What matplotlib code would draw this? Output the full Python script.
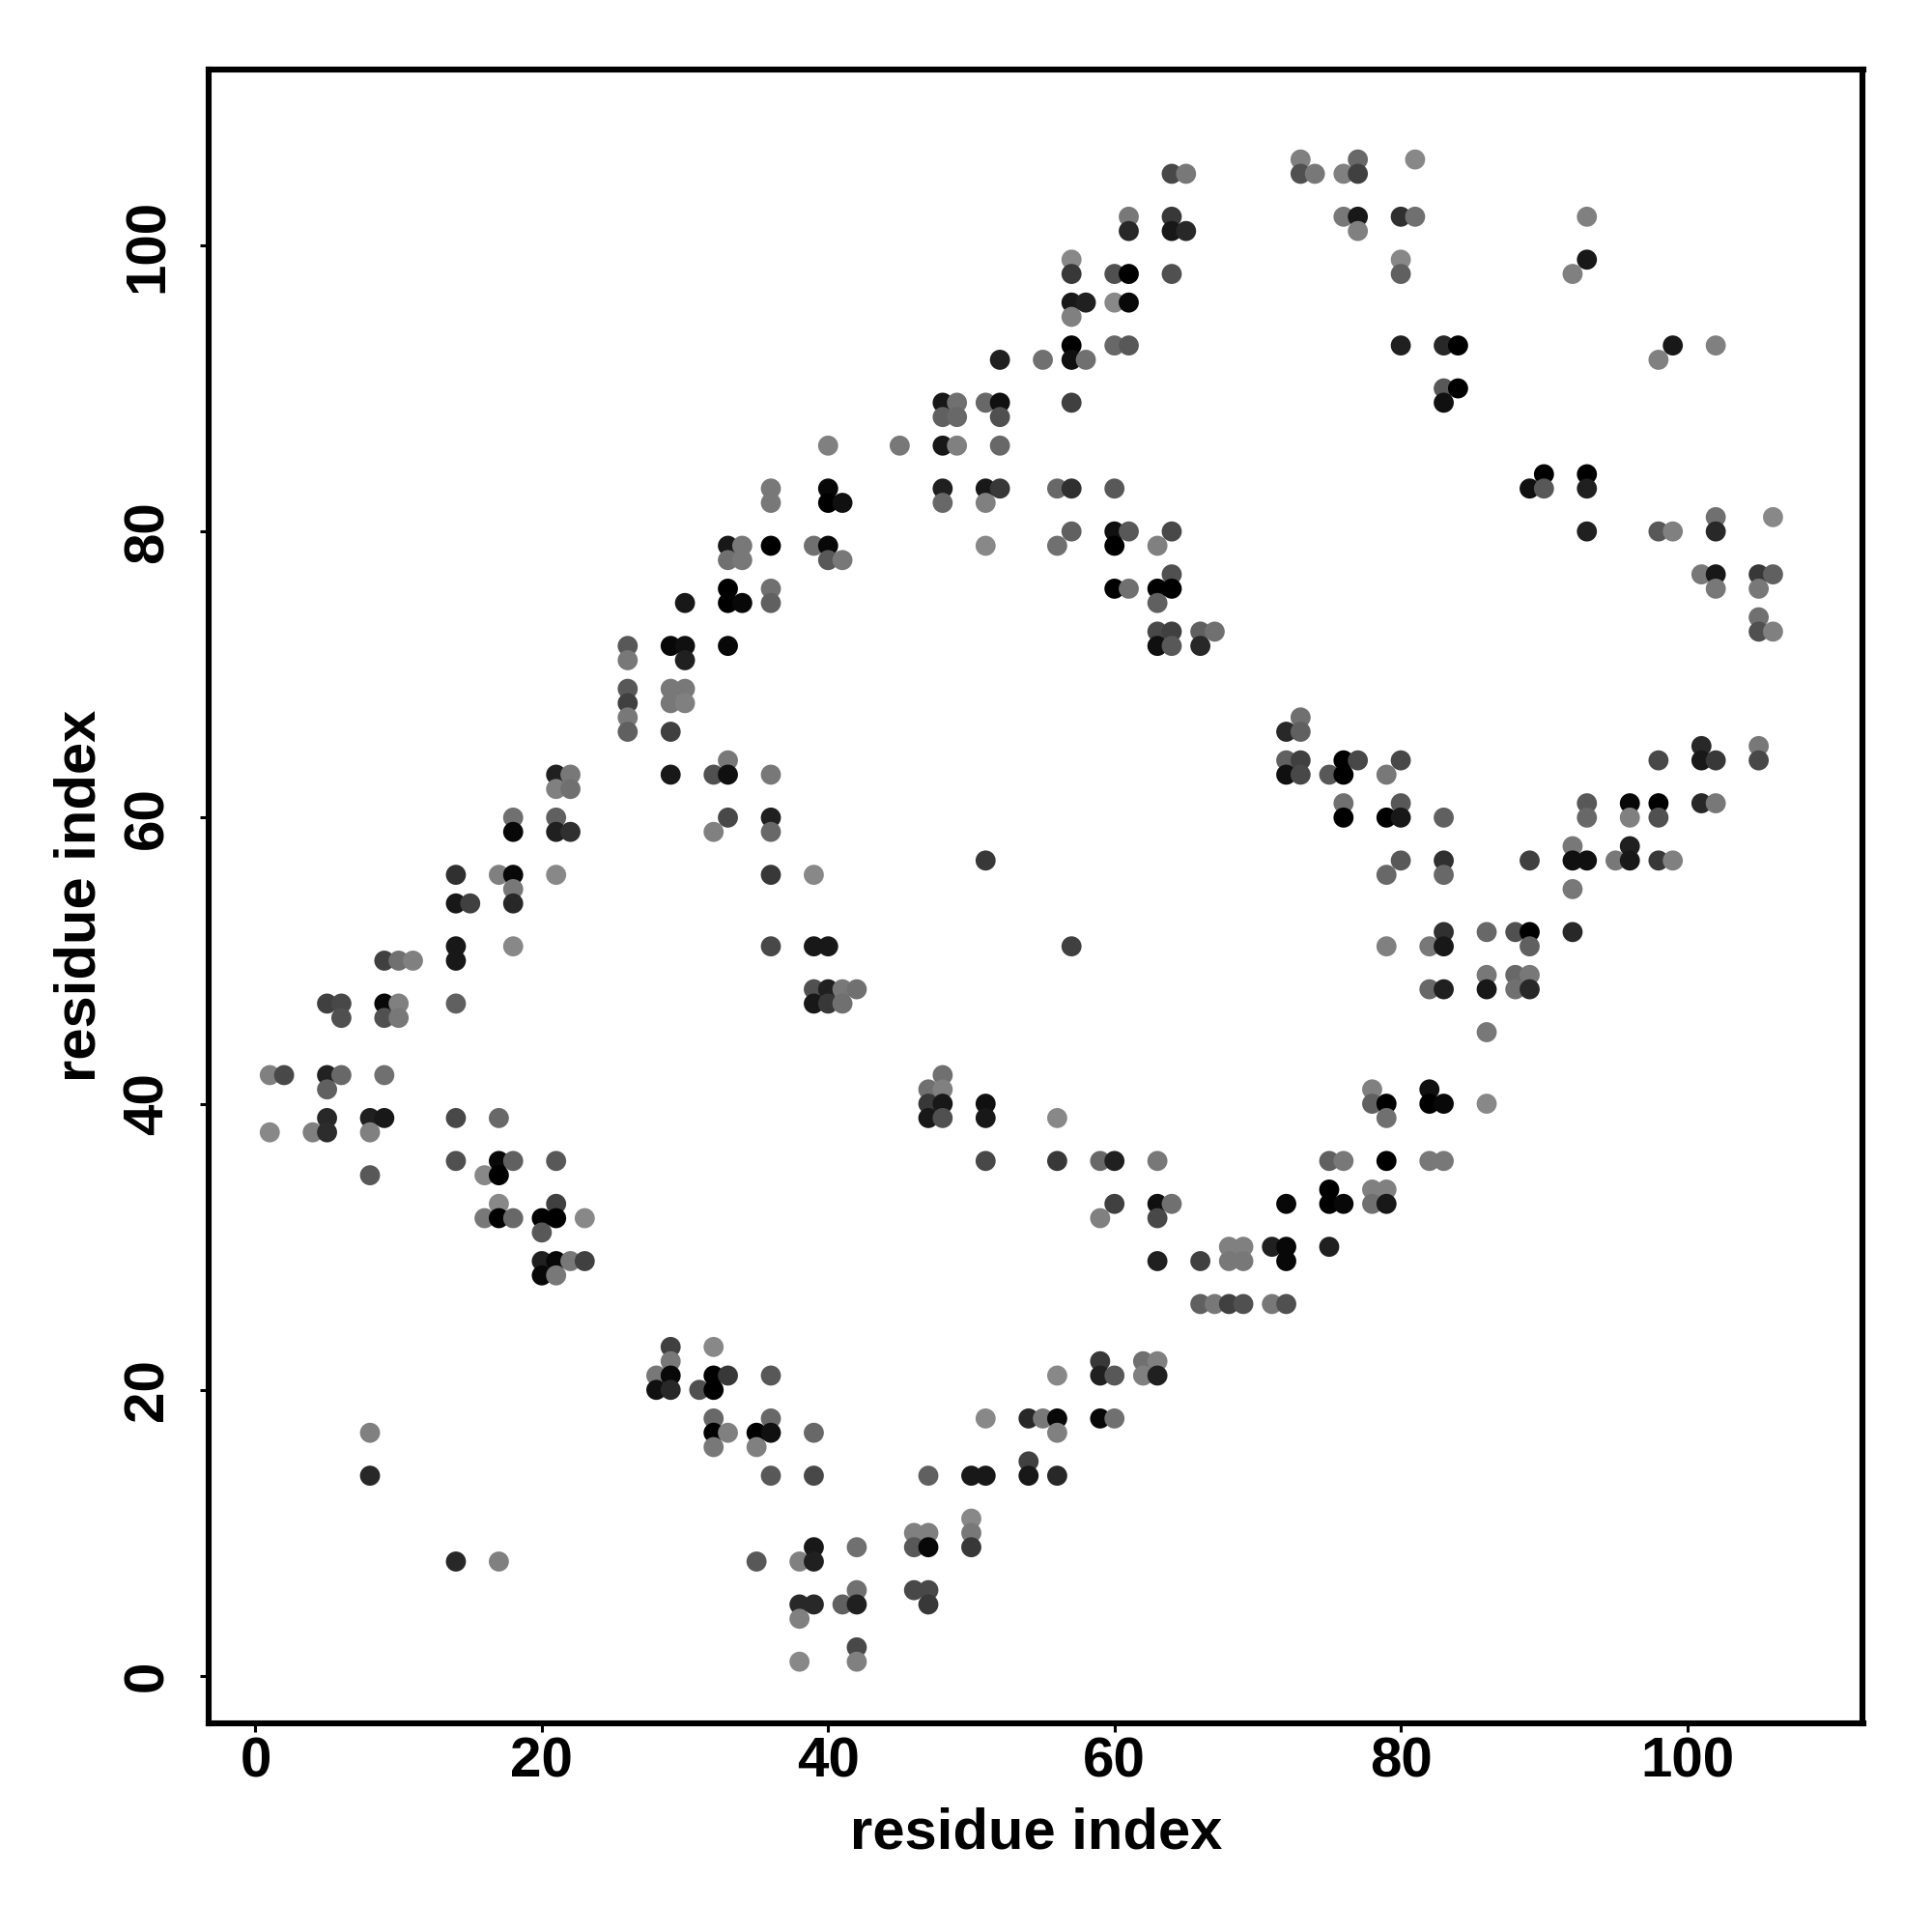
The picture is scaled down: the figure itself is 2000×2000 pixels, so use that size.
import matplotlib
matplotlib.use("Agg")
import matplotlib.pyplot as plt

# contacts, one line per residue on the x axis
residue_x = [
	1, 1,
	2,
	4,
	5, 5, 5, 5, 5,
	6, 6, 6,
	8, 8, 8, 8, 8,
	9, 9, 9, 9, 9,
	10, 10, 10,
	11,
	14, 14, 14, 14, 14, 14, 14, 14,
	15,
	16, 16,
	17, 17, 17, 17, 17, 17, 17,
	18, 18, 18, 18, 18, 18, 18, 18,
	20, 20, 20, 20,
	21, 21, 21, 21, 21, 21, 21, 21, 21, 21,
	22, 22, 22, 22,
	23, 23,
	26, 26, 26, 26, 26, 26,
	28, 28,
	29, 29, 29, 29, 29, 29, 29, 29, 29,
	30, 30, 30, 30, 30,
	31,
	32, 32, 32, 32, 32, 32, 32, 32,
	33, 33, 33, 33, 33, 33, 33, 33, 33, 33,
	34, 34, 34,
	35, 35, 35,
	36, 36, 36, 36, 36, 36, 36, 36, 36, 36, 36, 36, 36, 36,
	38, 38, 38, 38,
	39, 39, 39, 39, 39, 39, 39, 39, 39, 39,
	40, 40, 40, 40, 40, 40, 40, 40,
	41, 41, 41, 41, 41,
	42, 42, 42, 42, 42, 42,
	45,
	46, 46, 46,
	47, 47, 47, 47, 47, 47, 47, 47,
	48, 48, 48, 48, 48, 48, 48, 48, 48,
	49, 49, 49,
	50, 50, 50, 50,
	51, 51, 51, 51, 51, 51, 51, 51, 51, 51,
	52, 52, 52, 52, 52,
	54, 54, 54,
	55, 55,
	56, 56, 56, 56, 56, 56, 56, 56,
	57, 57, 57, 57, 57, 57, 57, 57, 57, 57,
	58, 58,
	59, 59, 59, 59, 59,
	60, 60, 60, 60, 60, 60, 60, 60, 60, 60, 60,
	61, 61, 61, 61, 61, 61, 61,
	62, 62,
	63, 63, 63, 63, 63, 63, 63, 63, 63, 63, 63,
	64, 64, 64, 64, 64, 64, 64, 64, 64, 64,
	65, 65,
	66, 66, 66, 66,
	67, 67,
	68, 68, 68,
	69, 69, 69,
	71, 71,
	72, 72, 72, 72, 72, 72, 72,
	73, 73, 73, 73, 73, 73,
	74,
	75, 75, 75, 75, 75,
	76, 76, 76, 76, 76, 76, 76, 76,
	77, 77, 77, 77, 77,
	78, 78, 78, 78,
	79, 79, 79, 79, 79, 79, 79, 79, 79,
	80, 80, 80, 80, 80, 80, 80, 80,
	81, 81,
	82, 82, 82, 82, 82,
	83, 83, 83, 83, 83, 83, 83, 83, 83, 83, 83,
	84, 84,
	86, 86, 86, 86, 86,
	88, 88, 88,
	89, 89, 89, 89, 89, 89,
	90, 90,
	92, 92, 92, 92, 92,
	93, 93, 93, 93, 93, 93, 93, 93,
	95,
	96, 96, 96, 96,
	98, 98, 98, 98, 98, 98,
	99, 99, 99,
	101, 101, 101, 101,
	102, 102, 102, 102, 102, 102, 102,
	105, 105, 105, 105, 105, 105,
	106, 106, 106,
]

residue_y = [
	42, 38,
	42,
	38,
	47, 42, 41, 39, 38,
	47, 46, 42,
	39, 38, 35, 17, 14,
	50, 47, 46, 42, 39,
	50, 47, 46,
	50,
	56, 54, 51, 50, 47, 39, 36, 8,
	54,
	35, 32,
	56, 39, 36, 35, 33, 32, 8,
	60, 59, 56, 55, 54, 51, 36, 32,
	32, 31, 29, 28,
	63, 62, 60, 59, 56, 36, 33, 32, 29, 28,
	63, 62, 59, 29,
	32, 29,
	72, 71, 69, 68, 67, 66,
	21, 20,
	72, 69, 68, 66, 63, 23, 22, 21, 20,
	75, 72, 71, 69, 68,
	20,
	63, 59, 23, 21, 20, 18, 17, 16,
	79, 78, 76, 75, 72, 64, 63, 60, 21, 17,
	79, 78, 75,
	17, 16, 8,
	83, 82, 79, 76, 75, 63, 60, 59, 56, 51, 21, 18, 17, 14,
	8, 5, 4, 1,
	79, 56, 51, 48, 47, 17, 14, 9, 8, 5,
	86, 83, 82, 79, 78, 51, 48, 47,
	82, 78, 48, 47, 5,
	48, 9, 6, 5, 2, 1,
	86,
	10, 9, 6,
	41, 40, 39, 14, 10, 9, 6, 5,
	89, 88, 86, 83, 82, 42, 41, 40, 39,
	89, 88, 86,
	14, 11, 10, 9,
	89, 83, 82, 79, 57, 40, 39, 36, 18, 14,
	92, 89, 88, 86, 83,
	18, 15, 14,
	92, 18,
	83, 79, 39, 36, 21, 18, 17, 14,
	99, 98, 96, 95, 93, 92, 89, 83, 80, 51,
	96, 92,
	36, 32, 22, 21, 18,
	98, 96, 93, 83, 80, 79, 76, 36, 33, 21, 18,
	102, 101, 98, 96, 93, 80, 76,
	22, 21,
	79, 76, 75, 73, 72, 36, 33, 32, 29, 22, 21,
	105, 102, 101, 98, 80, 77, 76, 73, 72, 33,
	105, 101,
	73, 72, 29, 26,
	73, 26,
	30, 29, 26,
	30, 29, 26,
	30, 26,
	66, 64, 63, 33, 30, 29, 26,
	106, 105, 67, 66, 64, 63,
	105,
	63, 36, 34, 33, 30,
	105, 102, 64, 63, 61, 60, 36, 33,
	106, 105, 102, 101, 64,
	41, 40, 34, 33,
	63, 60, 56, 51, 40, 39, 36, 34, 33,
	102, 99, 98, 93, 64, 61, 60, 57,
	106, 102,
	51, 48, 41, 40, 36,
	93, 90, 89, 60, 57, 56, 52, 51, 48, 40, 36,
	93, 90,
	52, 49, 48, 45, 40,
	52, 49, 48,
	83, 57, 52, 51, 49, 48,
	84, 83,
	98, 58, 57, 55, 52,
	102, 99, 84, 83, 80, 61, 60, 57,
	57,
	61, 60, 58, 57,
	92, 80, 64, 61, 60, 57,
	93, 80, 57,
	77, 65, 64, 61,
	93, 81, 80, 77, 76, 64, 61,
	77, 76, 74, 73, 65, 64,
	81, 77, 73,
]

# grey level of each point, 0 black to 255 white
point_gray = [
	0x80, 0x88,
	0x48,
	0x80,
	0x40, 0x22, 0x60, 0x28, 0x2c,
	0x48, 0x50, 0x68,
	0x20, 0x80, 0x58, 0x80, 0x28,
	0x40, 0x08, 0x50, 0x70, 0x18,
	0x70, 0x80, 0x78,
	0x80,
	0x30, 0x18, 0x18, 0x18, 0x60, 0x48, 0x50, 0x28,
	0x40,
	0x88, 0x78,
	0x80, 0x68, 0x08, 0x00, 0x88, 0x00, 0x80,
	0x70, 0x08, 0x08, 0x78, 0x28, 0x88, 0x60, 0x68,
	0x00, 0x58, 0x20, 0x08,
	0x20, 0x80, 0x60, 0x20, 0x88, 0x58, 0x40, 0x00, 0x08, 0x78,
	0x78, 0x70, 0x30, 0x78,
	0x88, 0x40,
	0x58, 0x78, 0x58, 0x40, 0x78, 0x60,
	0x78, 0x10,
	0x08, 0x78, 0x78, 0x40, 0x18, 0x40, 0x78, 0x08, 0x28,
	0x18, 0x10, 0x20, 0x78, 0x80,
	0x50,
	0x50, 0x80, 0x88, 0x00, 0x00, 0x68, 0x00, 0x78,
	0x18, 0x70, 0x00, 0x00, 0x08, 0x78, 0x10, 0x48, 0x38, 0x80,
	0x78, 0x78, 0x08,
	0x00, 0x80, 0x58,
	0x78, 0x78, 0x00, 0x70, 0x60, 0x78, 0x20, 0x68, 0x38, 0x48, 0x58, 0x68, 0x10, 0x58,
	0x80, 0x28, 0x80, 0x88,
	0x70, 0x88, 0x18, 0x50, 0x18, 0x68, 0x48, 0x18, 0x20, 0x28,
	0x80, 0x08, 0x00, 0x08, 0x58, 0x18, 0x20, 0x38,
	0x10, 0x78, 0x78, 0x70, 0x60,
	0x70, 0x70, 0x70, 0x20, 0x48, 0x80,
	0x78,
	0x80, 0x58, 0x48,
	0x70, 0x38, 0x18, 0x60, 0x80, 0x08, 0x48, 0x38,
	0x18, 0x60, 0x18, 0x20, 0x68, 0x70, 0x80, 0x18, 0x50,
	0x70, 0x68, 0x80,
	0x18, 0x88, 0x78, 0x38,
	0x68, 0x18, 0x80, 0x88, 0x38, 0x10, 0x18, 0x48, 0x88, 0x18,
	0x20, 0x10, 0x50, 0x68, 0x38,
	0x28, 0x40, 0x18,
	0x70, 0x78,
	0x68, 0x70, 0x88, 0x38, 0x88, 0x08, 0x80, 0x28,
	0x88, 0x38, 0x18, 0x80, 0x00, 0x10, 0x40, 0x30, 0x60, 0x40,
	0x20, 0x70,
	0x68, 0x80, 0x38, 0x20, 0x08,
	0x50, 0x88, 0x68, 0x58, 0x10, 0x00, 0x00, 0x20, 0x40, 0x58, 0x70,
	0x78, 0x28, 0x00, 0x08, 0x58, 0x58, 0x70,
	0x70, 0x80,
	0x80, 0x00, 0x60, 0x48, 0x10, 0x78, 0x10, 0x48, 0x20, 0x80, 0x20,
	0x48, 0x38, 0x18, 0x50, 0x48, 0x50, 0x00, 0x40, 0x58, 0x70,
	0x78, 0x28,
	0x60, 0x28, 0x40, 0x60,
	0x70, 0x78,
	0x80, 0x78, 0x40,
	0x80, 0x78, 0x50,
	0x20, 0x78,
	0x28, 0x60, 0x10, 0x08, 0x08, 0x08, 0x50,
	0x80, 0x50, 0x70, 0x60, 0x40, 0x48,
	0x78,
	0x58, 0x60, 0x00, 0x00, 0x20,
	0x80, 0x78, 0x00, 0x00, 0x70, 0x00, 0x78, 0x08,
	0x68, 0x40, 0x18, 0x80, 0x48,
	0x80, 0x60, 0x80, 0x70,
	0x78, 0x00, 0x68, 0x80, 0x00, 0x70, 0x00, 0x80, 0x18,
	0x30, 0x88, 0x60, 0x20, 0x48, 0x58, 0x18, 0x58,
	0x88, 0x70,
	0x78, 0x68, 0x10, 0x00, 0x78,
	0x28, 0x58, 0x10, 0x60, 0x30, 0x68, 0x30, 0x18, 0x20, 0x08, 0x78,
	0x00, 0x00,
	0x68, 0x78, 0x18, 0x78, 0x88,
	0x50, 0x68, 0x70,
	0x10, 0x40, 0x00, 0x60, 0x78, 0x28,
	0x00, 0x58,
	0x80, 0x78, 0x10, 0x78, 0x28,
	0x80, 0x18, 0x00, 0x20, 0x20, 0x58, 0x68, 0x10,
	0x78,
	0x08, 0x80, 0x20, 0x18,
	0x80, 0x58, 0x48, 0x00, 0x50, 0x38,
	0x18, 0x80, 0x80,
	0x78, 0x28, 0x18, 0x28,
	0x80, 0x70, 0x28, 0x18, 0x78, 0x38, 0x78,
	0x38, 0x78, 0x70, 0x50, 0x78, 0x48,
	0x88, 0x60, 0x80,
]

x_ticks = [0, 20, 40, 60, 80, 100]
y_ticks = [0, 20, 40, 60, 80, 100]


def main():
	print(len(residue_x), len(residue_y), len(point_gray))

	plt.rcParams['font.family'] = ['Liberation Sans', 'DejaVu Sans']
	plt.rcParams['font.weight'] = 'bold'

	fig = plt.figure(figsize=(10, 10), dpi=200, facecolor='white')
	ax = fig.add_axes([216 / 2000, 216 / 2000, 1712.5 / 2000, 1712.5 / 2000])

	colors = [(g / 255, g / 255, g / 255) for g in point_gray]
	ax.scatter(residue_x, residue_y, c=colors, s=56, linewidths=0, zorder=3, clip_on=False)

	ax.set_xlim(-3.27, 112.28)
	ax.set_ylim(-3.31, 112.32)

	ax.set_xticks(x_ticks)
	ax.set_yticks(y_ticks)
	ax.tick_params(axis='both', length=3.2, width=1.1, labelsize=21, color='black')
	ax.tick_params(axis='x', pad=1.5)
	ax.tick_params(axis='y', pad=9.5)
	for label in ax.get_yticklabels():
		label.set_rotation(90)
		label.set_verticalalignment('center')
	for spine in ax.spines.values():
		spine.set_linewidth(2.2)

	ax.set_xlabel("residue index", fontsize=21.5, fontweight='bold', labelpad=7)
	ax.set_ylabel("residue index", fontsize=21.5, fontweight='bold', labelpad=6)

	fig.savefig("out.png", dpi=200)


if __name__ == '__main__':
	main()
